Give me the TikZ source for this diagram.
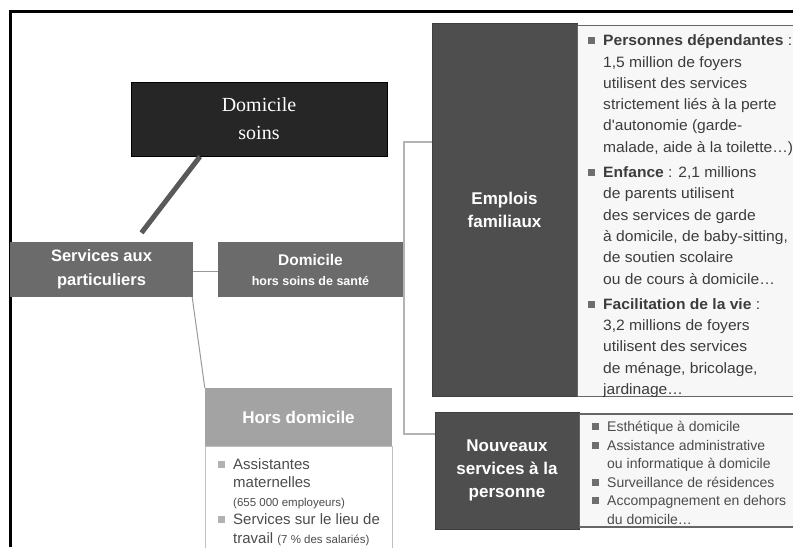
\documentclass[tikz,border=0pt]{standalone}
\usepackage{fontspec}
\setmainfont{Liberation Serif}
\newfontfamily\boxfont{Liberation Sans}
\newfontfamily\panelfont[FakeStretch=1.04]{Liberation Sans}
\usetikzlibrary{calc,backgrounds}
\definecolor{moyen}{HTML}{6B6B6B}
\definecolor{fonce}{HTML}{4E4E4E}
\definecolor{clair}{HTML}{A3A3A3}
\definecolor{noirbox}{HTML}{262626}
\definecolor{trait}{HTML}{B3B3B3}
\definecolor{texte}{HTML}{3C3C3C}
\definecolor{puce}{HTML}{6E6E6E}
\newcommand{\puce}[1][puce]{\llap{\textcolor{#1}{\rule[1.5pt]{7pt}{7pt}}\hspace{8pt}}}
\tikzset{
  soinsbox/.style={fill=noirbox,draw=black,line width=1pt,text=white,align=center,
    font=\fontsize{20}{28}\selectfont},
  catbox/.style={fill=moyen,text=white,align=center,inner sep=0pt,
    font=\boxfont\bfseries\fontsize{16.5}{24}\selectfont},
  darkbox/.style={fill=fonce,draw=fonce!80!black,text=white,align=center,inner sep=0pt,
    font=\boxfont\bfseries\fontsize{17}{23}\selectfont},
  lightbox/.style={fill=clair,text=white,align=center,inner sep=0pt,
    font=\boxfont\bfseries\fontsize{17}{23}\selectfont},
  panelbox/.style={fill=black!3,draw=black!60,line width=1.2pt,inner sep=0pt},
  horsbox/.style={fill=white,draw=black!25,line width=1pt,inner sep=0pt},
  paneltext/.style={align=left,inner sep=0pt,text=texte,anchor=north west},
  link/.style={draw=trait,line width=2pt},
  thinlink/.style={draw=black!40,line width=1pt},
  callout/.style={draw=black!65,line width=5pt}
}
\begin{document}
\begin{tikzpicture}[x=1pt,y=-1pt]
\clip (0,0) rectangle (793,547);
% cadre
\draw[line width=3pt] (10.5,547) -- (10.5,11.5) -- (793,11.5);

% boites
\node[soinsbox,minimum width=256pt,minimum height=74pt] (soins) at (259,119) {Domicile\\soins};
\node[catbox,minimum width=183pt,minimum height=55pt] (serv) at (101.5,269.5) {Services aux\\particuliers};
\node[catbox,minimum width=185pt,minimum height=55pt,font=\boxfont\bfseries\fontsize{15.5}{20}\selectfont]
  (dom) at (310.5,269.5) {Domicile\\{\fontsize{12.5}{20}\selectfont hors soins de santé}};
\node[darkbox,minimum width=145pt,minimum height=373pt] (emp) at (504.5,209.5) {Emplois\\familiaux};
\node[panelbox,anchor=north west,minimum width=240pt,minimum height=371pt] (empcase)
  at ([yshift=-2pt]emp.north east) {};
\node[darkbox,minimum width=144pt,minimum height=117pt] (nouv) at (507,470.5) {Nouveaux\\services à la\\personne};
\node[panelbox,anchor=west,minimum width=240pt,minimum height=113pt] (nouvcase) at (nouv.east) {};
\node[lightbox,minimum width=187pt,minimum height=58pt] (hors) at (298.5,417) {Hors domicile};
\node[horsbox,anchor=north,minimum width=187pt,minimum height=130pt] (horscase) at (hors.south) {};

% textes
\node[paneltext,font=\panelfont\fontsize{15}{21.3}\selectfont] (emplist) at (603,34.5) {%
\puce\textbf{Personnes dépendantes} :\\
1,5 million de foyers\\
utilisent des services\\
strictement liés à la perte\\
d'autonomie (garde-\\
malade, aide à la toilette…)\\[4pt]
\puce\textbf{Enfance} : 2,1 millions\\
de parents utilisent\\
des services de garde\\
à domicile, de baby-sitting,\\
de soutien scolaire\\
ou de cours à domicile…\\[4pt]
\puce\textbf{Facilitation de la vie} :\\
3,2 millions de foyers\\
utilisent des services\\
de ménage, bricolage,\\
jardinage…};
\node[paneltext,font=\boxfont\fontsize{14}{18.6}\selectfont,text=black!70] (nouvlist) at (607,421) {%
\puce Esthétique à domicile\\
\puce Assistance administrative\\
ou informatique à domicile\\
\puce Surveillance de résidences\\
\puce Accompagnement en dehors\\
du domicile…};
\node[paneltext,font=\boxfont\fontsize{15}{18.5}\selectfont,text=black!70] (horslist) at (233,458) {%
\puce[black!30]Assistantes\\
maternelles\\
{\fontsize{11.5}{18.5}\selectfont (655 000 employeurs)}\\
\puce[black!30]Services sur le lieu de\\
travail {\fontsize{11.5}{18.5}\selectfont (7 \% des salariés)}};

% liens
\draw[callout] ([xshift=-59pt]soins.south) -- ([xshift=40pt,yshift=9pt]serv.north);
\begin{scope}[on background layer]
\coordinate (jhaut) at (403.5,142);
\coordinate (jbas) at (403.5,434);
\draw[link] (jhaut -| emp.west) -- (jhaut) -- (jbas) -- (jbas -| nouv.west);
\draw[thinlink] ([yshift=-2pt]serv.east) -- ([yshift=-2pt]dom.west);
\draw[thinlink] ([xshift=-1pt]serv.south east) -- (hors.north west);
\end{scope}
\end{tikzpicture}
\end{document}
